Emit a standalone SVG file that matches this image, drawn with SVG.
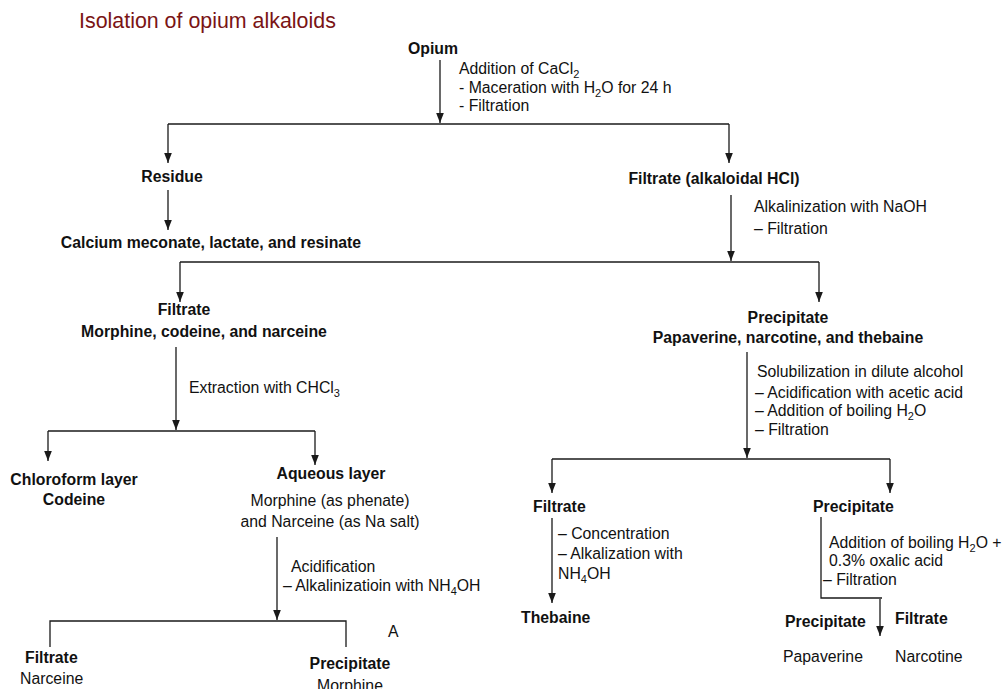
<svg xmlns="http://www.w3.org/2000/svg" width="1006" height="689" viewBox="0 0 1006 689">
  <style>
    text { font-family: "Liberation Sans", Arial, sans-serif; fill: #111; font-size: 15.8px; }
    .b { font-weight: bold; }
    .c { text-anchor: middle; }
    .title { font-size: 21.4px; fill: #7a1414; }
    .sub { font-size: 11px; }
    .ln { stroke: #1a1a1a; stroke-width: 1.3; fill: none; }
    .ar { marker-end: url(#head); }
  </style>
  <defs>
    <marker id="head" markerUnits="userSpaceOnUse" markerWidth="10" markerHeight="10" viewBox="0 -4 10 8" refX="10" refY="0" orient="auto">
      <path d="M0,-3.8 L10,0 L0,3.8 z" fill="#1a1a1a"/>
    </marker>
  </defs>

  <rect width="1006" height="689" fill="#fff"/>

  <text id="title" class="title" x="79" y="28">Isolation of opium alkaloids</text>

  <!-- connectors -->
  <g id="connectors">
    <!-- opium split -->
    <line class="ln ar" x1="440" y1="60" x2="440" y2="123"/>
    <polyline class="ln" points="168,124 729,124"/>
    <line class="ln ar" x1="168" y1="124" x2="168" y2="163"/>
    <line class="ln ar" x1="729" y1="124" x2="729" y2="163"/>
    <!-- residue -->
    <line class="ln ar" x1="168" y1="190" x2="168" y2="230"/>
    <!-- filtrate (alkaloidal HCl) split -->
    <line class="ln ar" x1="731" y1="195" x2="731" y2="261"/>
    <polyline class="ln" points="180,262 819,262"/>
    <line class="ln ar" x1="180" y1="262" x2="180" y2="302"/>
    <line class="ln ar" x1="819" y1="262" x2="819" y2="302"/>
    <!-- chloroform extraction split -->
    <line class="ln ar" x1="176" y1="347" x2="176" y2="430"/>
    <polyline class="ln" points="48,431 315,431"/>
    <line class="ln ar" x1="48" y1="431" x2="48" y2="461"/>
    <line class="ln ar" x1="315" y1="431" x2="315" y2="465"/>
    <!-- aqueous layer split -->
    <line class="ln ar" x1="277" y1="537" x2="277" y2="620"/>
    <polyline class="ln" points="50,647 50,621 346,621 346,647"/>
    <!-- precipitate split -->
    <line class="ln ar" x1="747" y1="352" x2="747" y2="458"/>
    <polyline class="ln" points="552,459 890,459"/>
    <line class="ln ar" x1="552" y1="459" x2="552" y2="493"/>
    <line class="ln ar" x1="890" y1="459" x2="890" y2="493"/>
    <!-- thebaine -->
    <line class="ln ar" x1="552" y1="518" x2="552" y2="603"/>
    <!-- oxalic acid treatment -->
    <polyline class="ln" points="821,517 821,598 882,598"/>
    <line class="ln ar" x1="880" y1="599" x2="880" y2="636"/>
  </g>

  <g id="opium">
    <text class="b c" x="433" y="54">Opium</text>
    <text x="459" y="74">Addition of CaCl<tspan class="sub" dy="4">2</tspan></text>
    <text x="459" y="93">- Maceration with H<tspan class="sub" dy="4">2</tspan><tspan dy="-4">O for 24 h</tspan></text>
    <text x="459" y="111">- Filtration</text>
  </g>

  <g id="residue">
    <text class="b c" x="172" y="182">Residue</text>
  </g>

  <g id="calcium-salts">
    <text class="b c" x="211" y="248">Calcium meconate, lactate, and resinate</text>
  </g>

  <g id="filtrate-hcl">
    <text class="b c" x="714" y="184">Filtrate (alkaloidal HCl)</text>
    <text x="754" y="212">Alkalinization with NaOH</text>
    <text x="754" y="234">– Filtration</text>
  </g>

  <g id="filtrate-mcn">
    <text class="b c" x="184" y="315">Filtrate</text>
    <text class="b c" x="204" y="337">Morphine, codeine, and narceine</text>
    <text x="189" y="393">Extraction with CHCl<tspan class="sub" dy="4">3</tspan></text>
  </g>

  <g id="chloroform-layer">
    <text class="b c" x="74" y="485">Chloroform layer</text>
    <text class="b c" x="74" y="505">Codeine</text>
  </g>

  <g id="aqueous-layer">
    <text class="b c" x="331" y="479">Aqueous layer</text>
    <text class="c" x="330" y="506">Morphine (as phenate)</text>
    <text class="c" x="330" y="527">and Narceine (as Na salt)</text>
    <text x="291" y="572">Acidification</text>
    <text x="283" y="591">– Alkalinizatioin with NH<tspan class="sub" dy="4">4</tspan><tspan dy="-4">OH</tspan></text>
  </g>

  <g id="label-a">
    <text x="388" y="637">A</text>
  </g>

  <g id="filtrate-narceine">
    <text class="b" x="25" y="663">Filtrate</text>
    <text x="20" y="684">Narceine</text>
  </g>

  <g id="precipitate-morphine">
    <text class="b c" x="350" y="669">Precipitate</text>
    <text class="c" x="350" y="691">Morphine</text>
  </g>

  <g id="precipitate-pnt">
    <text class="b c" x="788" y="323">Precipitate</text>
    <text class="b c" x="788" y="343">Papaverine, narcotine, and thebaine</text>
    <text x="757" y="377">Solubilization in dilute alcohol</text>
    <text x="755" y="398">– Acidification with acetic acid</text>
    <text x="755" y="416">– Addition of boiling H<tspan class="sub" dy="4">2</tspan><tspan dy="-4">O</tspan></text>
    <text x="755" y="435">– Filtration</text>
  </g>

  <g id="filtrate-thebaine">
    <text class="b" x="533" y="512">Filtrate</text>
    <text x="558" y="539">– Concentration</text>
    <text x="558" y="559">– Alkalization with</text>
    <text x="558" y="579">NH<tspan class="sub" dy="4">4</tspan><tspan dy="-4">OH</tspan></text>
  </g>

  <g id="thebaine">
    <text class="b" x="521" y="623">Thebaine</text>
  </g>

  <g id="precipitate-pn">
    <text class="b" x="813" y="512">Precipitate</text>
    <text x="829" y="548">Addition of boiling H<tspan class="sub" dy="4">2</tspan><tspan dy="-4">O +</tspan></text>
    <text x="829" y="566">0.3% oxalic acid</text>
    <text x="823" y="585">– Filtration</text>
  </g>

  <g id="precipitate-papaverine">
    <text class="b" x="785" y="627">Precipitate</text>
    <text x="783" y="662">Papaverine</text>
  </g>

  <g id="filtrate-narcotine">
    <text class="b" x="895" y="624">Filtrate</text>
    <text x="895" y="662">Narcotine</text>
  </g>
</svg>
